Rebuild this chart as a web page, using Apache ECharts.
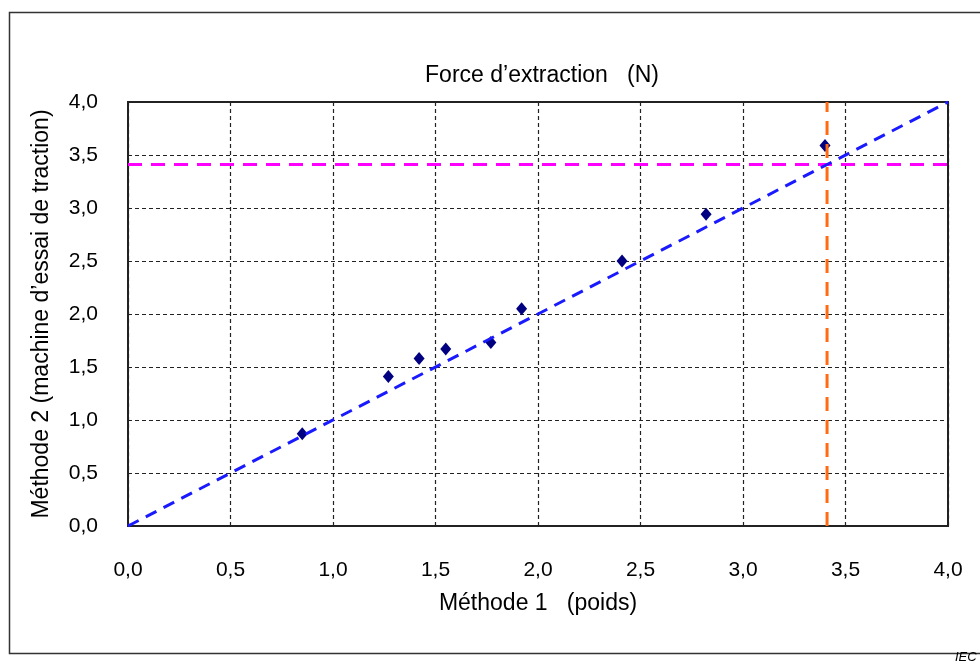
<!DOCTYPE html>
<html>
<head>
<meta charset="utf-8">
<script src="https://cdn.jsdelivr.net/npm/echarts@6/dist/echarts.min.js"></script>
<style>
  html, body { margin: 0; padding: 0; background: #fff; }
  #chart { width: 980px; height: 663px; }
</style>
</head>
<body>
<div id="chart"></div>
<script>
// mesures: méthode 1 (poids) / méthode 2 (machine de traction)
const methode1 = [0.85, 1.27, 1.42, 1.55, 1.77, 1.92, 2.41, 2.82, 3.40]
const methode2 = [0.87, 1.41, 1.58, 1.67, 1.73, 2.05, 2.50, 2.94, 3.59]
// droite y = x
const diagX = [0, 4]
// seuil (lignes pointillées)
const seuil = 3.41
const axisMin = 0, axisMax = 4, axisStep = 0.5

const points = methode1.map((x, i) => [x, methode2[i]])
const diag = diagX.map(v => [v, v])
const seuilH = [[axisMin, seuil], [axisMax, seuil]]
const seuilV = [[seuil, axisMin], [seuil, axisMax]]

const fmt = v => v.toFixed(1).replace('.', ',')
const font = 'Liberation Sans, Arial, sans-serif'

const chart = echarts.init(document.getElementById('chart'))

chart.setOption({
  animation: false,
  title: {
    text: 'Force d\u2019extraction   (N)',
    left: 537,
    top: 59,
    textAlign: 'center',
    textStyle: { fontFamily: font, fontSize: 23, fontWeight: 'normal', color: '#000' }
  },
  grid: {
    left: 128, right: 32, top: 102, bottom: 137,
    show: true, borderColor: '#222', borderWidth: 2
  },
  graphic: [
    {
      type: 'rect', left: 7, top: 10, silent: true,
      shape: { width: 990, height: 641 },
      style: { fill: 'none', stroke: '#333', lineWidth: 1.5 }
    },
    {
      type: 'text', left: 955, top: 651,
      style: { text: 'IEC', fontFamily: font, fontSize: 13, fontStyle: 'italic', fill: '#000' }
    }
  ],
  xAxis: {
    type: 'value', min: axisMin, max: axisMax, interval: axisStep,
    name: 'M\u00e9thode 1   (poids)',
    nameLocation: 'middle', nameGap: 66,
    nameTextStyle: { fontFamily: font, fontSize: 23, color: '#000' },
    axisLine: { show: true, lineStyle: { color: '#222', width: 2 } },
    axisTick: { show: false },
    axisLabel: { formatter: fmt, margin: 34, fontFamily: font, fontSize: 21, color: '#000' },
    splitLine: { show: true, lineStyle: { color: '#222', type: [4, 3], width: 1.2 } }
  },
  yAxis: {
    type: 'value', min: axisMin, max: axisMax, interval: axisStep,
    name: 'M\u00e9thode 2 (machine d\u2019essai de traction)',
    nameLocation: 'middle', nameGap: 75,
    nameTextStyle: { fontFamily: font, fontSize: 23, color: '#000' },
    axisLine: { show: true, lineStyle: { color: '#222', width: 2 } },
    axisTick: { show: false },
    axisLabel: { formatter: fmt, margin: 30, fontFamily: font, fontSize: 21, color: '#000' },
    splitLine: { show: true, lineStyle: { color: '#222', type: [4, 3], width: 1.2 } }
  },
  series: [
    {
      type: 'line', data: seuilH, symbol: 'none', silent: true,
      lineStyle: { color: '#ff00ff', width: 3, type: [14, 9] }
    },
    {
      type: 'line', data: seuilV, symbol: 'none', silent: true,
      lineStyle: { color: '#ff6a13', width: 3, type: [14, 9] }
    },
    {
      type: 'line', data: diag, symbol: 'none', silent: true,
      lineStyle: { color: '#1a1aff', width: 3, type: [12, 8] }
    },
    {
      type: 'scatter', data: points, symbol: 'diamond', symbolSize: [11, 13],
      itemStyle: { color: '#000080', opacity: 1 }
    }
  ]
})
</script>
</body>
</html>
